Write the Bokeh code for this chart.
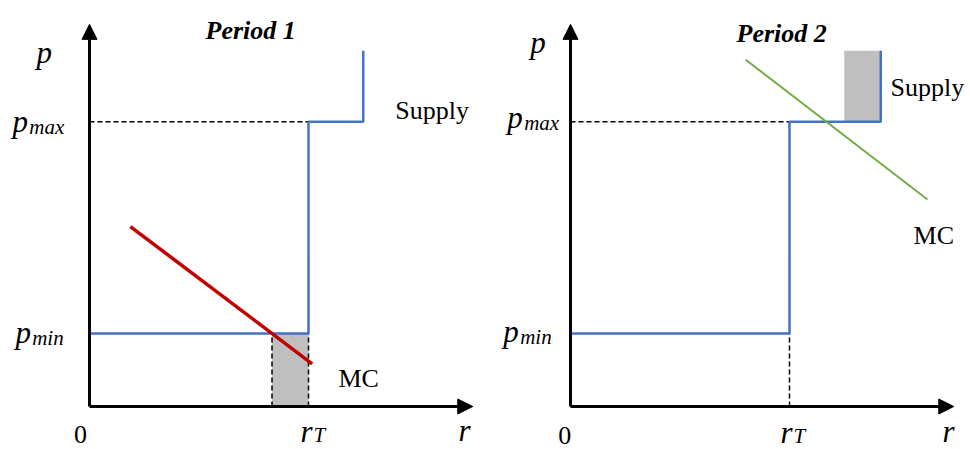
from bokeh.plotting import figure
from bokeh.layouts import row
from bokeh.models import Arrow, NormalHead, Range1d, Label
from bokeh.embed import file_html
from bokeh.resources import INLINE

# ---------------- data (abstract units) ----------------
r_axis_end = 10.5
p_axis_end = 10.47
p_min = 2.0
p_max = 7.8
r_T = 6.0

# Period 1
supply1_r = [0.0, 6.0, 6.0, 7.5, 7.5]
supply1_p = [2.0, 2.0, 7.8, 7.8, 9.75]
mc1_r = [1.12, 6.1]
mc1_p = [4.93, 1.17]
shade1_left, shade1_right = [5.0], [6.0]
shade1_bottom, shade1_top = [0.0], [2.0]
dash1_x = [5.0, 6.0]

# Period 2
supply2_r = [0.0, 6.0, 6.0, 8.5, 8.5]
supply2_p = [2.0, 2.0, 7.8, 7.8, 9.75]
mc2_r = [4.8, 9.78]
mc2_p = [9.5, 5.67]
shade2_left, shade2_right = [7.5], [8.5]
shade2_bottom, shade2_top = [7.8], [9.75]
dash2_x = [6.0]

titles = ["Period 1", "Period 2"]

# ---------------- styling ----------------
SCALE = 36.5      # px per unit
ORIGIN_Y = 43     # px from bottom
H = 449
W1, W2 = 489, 481
OX1, OX2 = 89, 81
BLUE = "#4472C4"
RED = "#C00000"
GREEN = "#70AD47"
GRAY = "#BFBFBF"
SERIF = "Liberation Serif"


def make_fig(w, ox):
    f = figure(width=w, height=H, output_backend="svg", toolbar_location=None,
               x_range=Range1d(-ox / SCALE, (w - ox) / SCALE),
               y_range=Range1d(-ORIGIN_Y / SCALE, (H - ORIGIN_Y) / SCALE),
               min_border=0, tools="")
    f.axis.visible = False
    f.grid.visible = False
    f.outline_line_color = None
    f.background_fill_color = "white"
    f.border_fill_color = "white"
    return f


def axes(f):
    for (xe, ye) in [(r_axis_end, 0.0), (0.0, p_axis_end)]:
        f.add_layout(Arrow(end=NormalHead(size=15, fill_color="black", line_color="black", line_width=1),
                           x_start=0, y_start=0, x_end=xe, y_end=ye,
                           line_color="black", line_width=3))


def txt(f, x, y, s, size="26px", style="normal", align="left"):
    f.add_layout(Label(x=x, y=y, text=s, text_font=SERIF, text_font_size=size,
                       text_font_style=style, text_align=align, text_baseline="alphabetic",
                       text_color="black"))


def sub_label(f, x, y, base, sub, dy=0.14, dx=0.46):
    txt(f, x, y, base, size="31px", style="italic")
    txt(f, x + dx, y - dy, sub, size="21px", style="italic")


# ---------------- Period 1 ----------------
f1 = make_fig(W1, OX1)
f1.quad(left=shade1_left, right=shade1_right, bottom=shade1_bottom, top=shade1_top,
        fill_color=GRAY, line_color=None)
f1.line([0, r_T], [p_max, p_max], line_color="black", line_width=1.5, line_dash="5 3")
for xd in dash1_x:
    f1.line([xd, xd], [0, p_min], line_color="black", line_width=1.5, line_dash="5 3")
f1.line(supply1_r, supply1_p, line_color=BLUE, line_width=2.5)
f1.line(mc1_r, mc1_p, line_color=RED, line_width=3.5)
axes(f1)
txt(f1, 3.18, 10.30, titles[0], style="bold italic")
txt(f1, -1.45, 9.70, "p", size="31px", style="italic")
sub_label(f1, -2.11, 7.80, "p", "max")
sub_label(f1, -2.03, 2.03, "p", "min")
txt(f1, -0.25, -0.77, "0", align="center")
sub_label(f1, 5.78, -0.68, "r", "T", dy=0.11, dx=0.36)
txt(f1, 10.11, -0.65, "r", size="31px", style="italic")
txt(f1, 8.38, 8.11, "Supply")
txt(f1, 6.82, 0.77, "MC")

# ---------------- Period 2 ----------------
f2 = make_fig(W2, OX2)
f2.quad(left=shade2_left, right=shade2_right, bottom=shade2_bottom, top=shade2_top,
        fill_color=GRAY, line_color=None)
f2.line([0, r_T], [p_max, p_max], line_color="black", line_width=1.5, line_dash="5 3")
for xd in dash2_x:
    f2.line([xd, xd], [0, p_min], line_color="black", line_width=1.5, line_dash="5 3")
f2.line(supply2_r, supply2_p, line_color=BLUE, line_width=2.5)
f2.line(mc2_r, mc2_p, line_color=GREEN, line_width=2)
axes(f2)
txt(f2, 4.55, 10.22, titles[1], style="bold italic")
txt(f2, -1.10, 9.97, "p", size="31px", style="italic")
sub_label(f2, -1.73, 7.92, "p", "max")
sub_label(f2, -1.84, 2.05, "p", "min")
txt(f2, -0.16, -0.80, "0", align="center")
sub_label(f2, 5.75, -0.70, "r", "T", dy=0.11, dx=0.36)
txt(f2, 10.19, -0.68, "r", size="31px", style="italic")
txt(f2, 8.77, 8.74, "Supply")
txt(f2, 9.40, 4.68, "MC")

layout = row(f1, f2)
open("out.html", "w").write(file_html(layout, INLINE))
